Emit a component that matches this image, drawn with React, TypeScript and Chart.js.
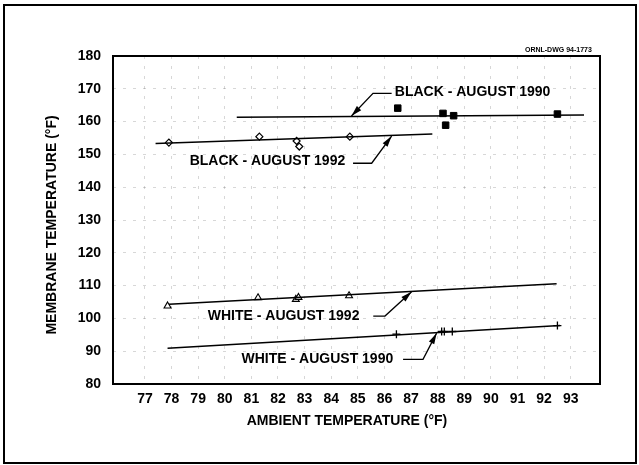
import React, { useEffect, useRef } from "react";
import { Chart, registerables } from "chart.js";

Chart.register(...registerables);

// ---- data ----
const xTickValues = [77, 78, 79, 80, 81, 82, 83, 84, 85, 86, 87, 88, 89, 90, 91, 92, 93];
const yTickValues = [80, 90, 100, 110, 120, 130, 140, 150, 160, 170, 180];

const black1990X = [86.5, 88.2, 88.3, 88.6, 92.5];
const black1990Y = [164.1, 162.5, 158.9, 161.8, 162.3];
const black1990FitX = [80.45, 93.5];
const black1990FitY = [161.3, 162.0];

const black1992X = [77.9, 81.3, 82.7, 82.8, 84.7];
const black1992Y = [153.6, 155.4, 154.1, 152.4, 155.4];
const black1992FitX = [77.4, 87.8];
const black1992FitY = [153.3, 156.2];

const white1992X = [77.85, 81.25, 82.67, 82.77, 84.67];
const white1992Y = [103.8, 106.3, 105.8, 106.4, 106.9];
const white1992FitX = [77.9, 92.47];
const white1992FitY = [104.3, 110.6];

const white1990X = [86.45, 88.15, 88.25, 88.55, 92.5];
const white1990Y = [95.2, 96.0, 96.0, 96.0, 97.8];
const white1990FitX = [77.85, 92.6];
const white1990FitY = [90.9, 97.8];

const annotationLabels = ["BLACK - AUGUST 1990", "BLACK - AUGUST 1992", "WHITE - AUGUST 1992", "WHITE - AUGUST 1990"];
const annotationX = [86.39, 78.68, 79.36, 80.63];
const annotationY = [169.1, 147.8, 100.7, 87.5];
const annotationArrowX = [
  [86.27, 85.57, 84.76],
  [84.82, 85.52, 86.27],
  [85.58, 86.02, 87.02],
  [86.7, 87.45, 87.96],
];
const annotationArrowY = [
  [168.6, 168.6, 161.7],
  [147.3, 147.3, 155.6],
  [100.7, 100.7, 108.1],
  [87.5, 87.5, 95.5],
];
const drawingLabel = "ORNL-DWG 94-1773";

const xTitle = "AMBIENT TEMPERATURE (°F)";
const yTitle = "MEMBRANE TEMPERATURE (°F)";

const FONT = '"Liberation Sans", Arial, Helvetica, sans-serif';

const zip = (xs: number[], ys: number[]) => xs.map((x, i) => ({ x, y: ys[i] }));

const decorPlugin = {
  id: "decor",
  afterDraw(chart: any) {
    const { ctx, chartArea, scales } = chart;
    const xs = scales.x;
    const ys = scales.y;
    ctx.save();
    // outer frame
    ctx.strokeStyle = "#000";
    ctx.lineWidth = 2;
    ctx.strokeRect(4, 5, 632, 458);
    // plot box
    ctx.lineWidth = 2;
    ctx.strokeRect(chartArea.left, chartArea.top, chartArea.right - chartArea.left, chartArea.bottom - chartArea.top);

    // axis titles
    ctx.fillStyle = "#000";
    ctx.font = `bold 14px ${FONT}`;
    ctx.textAlign = "center";
    ctx.textBaseline = "middle";
    ctx.fillText(xTitle, 347, 421.5);
    ctx.save();
    ctx.translate(52.5, 225);
    ctx.rotate(-Math.PI / 2);
    ctx.fillText(yTitle, 0, 0);
    ctx.restore();

    // annotations
    ctx.font = `bold 14px ${FONT}`;
    ctx.textBaseline = "middle";
    ctx.textAlign = "left";
    annotationLabels.forEach((label, i) => {
      ctx.fillText(label, xs.getPixelForValue(annotationX[i]), ys.getPixelForValue(annotationY[i]));
      const pts = annotationArrowX[i].map((vx, j) => [xs.getPixelForValue(vx), ys.getPixelForValue(annotationArrowY[i][j])]);
      ctx.lineWidth = 1.3;
      ctx.beginPath();
      ctx.moveTo(pts[0][0], pts[0][1]);
      for (let k = 1; k < pts.length; k++) ctx.lineTo(pts[k][0], pts[k][1]);
      ctx.stroke();
      const [x1, y1] = pts[pts.length - 2];
      const [x2, y2] = pts[pts.length - 1];
      const ang = Math.atan2(y2 - y1, x2 - x1);
      const len = 11;
      const w = 3;
      const c = Math.cos(ang);
      const s = Math.sin(ang);
      ctx.beginPath();
      ctx.moveTo(x2, y2);
      ctx.lineTo(x2 - len * c + w * s, y2 - len * s - w * c);
      ctx.lineTo(x2 - len * c - w * s, y2 - len * s + w * c);
      ctx.closePath();
      ctx.fill();
    });

    ctx.font = `bold 7px ${FONT}`;
    ctx.textBaseline = "middle";
    ctx.textAlign = "left";
    ctx.fillText(drawingLabel, xs.getPixelForValue(91.28), ys.getPixelForValue(181.8));
    ctx.restore();
  },
};

export default function App() {
  const ref = useRef<HTMLCanvasElement | null>(null);
  useEffect(() => {
    if (!ref.current) return;
    const lineDs = (xs: number[], ys: number[]) => ({
      type: "line" as const,
      data: zip(xs, ys),
      borderColor: "#000",
      borderWidth: 1.5,
      pointRadius: 0,
      showLine: true,
      fill: false,
    });
    const chart = new Chart(ref.current, {
      type: "scatter",
      data: {
        datasets: [
          lineDs(black1990FitX, black1990FitY),
          lineDs(black1992FitX, black1992FitY),
          lineDs(white1992FitX, white1992FitY),
          lineDs(white1990FitX, white1990FitY),
          {
            data: zip(black1990X, black1990Y),
            pointStyle: "rect",
            pointRadius: 4.6,
            backgroundColor: "#000",
            borderColor: "#000",
            borderWidth: 1,
          },
          {
            data: zip(black1992X, black1992Y),
            pointStyle: "rectRot",
            pointRadius: 3.5,
            backgroundColor: "#fff",
            borderColor: "#000",
            borderWidth: 1.2,
          },
          {
            data: zip(white1992X, white1992Y),
            pointStyle: "triangle",
            pointRadius: 4,
            backgroundColor: "#fff",
            borderColor: "#000",
            borderWidth: 1.1,
          },
          {
            data: zip(white1990X, white1990Y),
            pointStyle: "cross",
            pointRadius: 4,
            backgroundColor: "#000",
            borderColor: "#000",
            borderWidth: 1.3,
          },
        ] as any,
      },
      options: {
        animation: false,
        responsive: false,
        events: [],
        layout: { padding: { left: 0, right: 39, top: 56, bottom: 0 } },
        plugins: { legend: { display: false }, tooltip: { enabled: false } },
        scales: {
          x: {
            type: "linear",
            min: 75.8,
            max: 94.1,
            afterBuildTicks: (scale: any) => {
              scale.ticks = xTickValues.map((v) => ({ value: v }));
            },
            afterFit: (scale: any) => {
              scale.height = 81;
            },
            ticks: {
              color: "#000",
              font: { family: FONT, size: 14, weight: "bold" },
              padding: 7,
              maxRotation: 0,
              autoSkip: false,
              callback: (v: any) => String(v),
            },
            grid: {
              color: "rgba(0,0,0,0.2)",
              lineWidth: 0.8,
              drawTicks: false,
            },
            border: { display: false, dash: [3, 7] },
            title: { display: false },
          },
          y: {
            type: "linear",
            min: 80,
            max: 180,
            afterBuildTicks: (scale: any) => {
              scale.ticks = yTickValues.map((v) => ({ value: v }));
            },
            afterFit: (scale: any) => {
              scale.width = 113;
            },
            ticks: {
              color: "#000",
              font: { family: FONT, size: 14, weight: "bold" },
              padding: 12,
              autoSkip: false,
              callback: (v: any) => String(v),
            },
            grid: {
              color: "rgba(0,0,0,0.2)",
              lineWidth: 0.8,
              drawTicks: false,
            },
            border: { display: false, dash: [3, 7] },
            title: { display: false },
          },
        },
      } as any,
      plugins: [decorPlugin],
    });
    return () => chart.destroy();
  }, []);
  return (
    <div style={{ position: "fixed", left: 0, top: 0, width: 639, height: 465, background: "#fff" }}>
      <canvas ref={ref} width={639} height={465} style={{ display: "block", width: 639, height: 465 }} />
    </div>
  );
}
